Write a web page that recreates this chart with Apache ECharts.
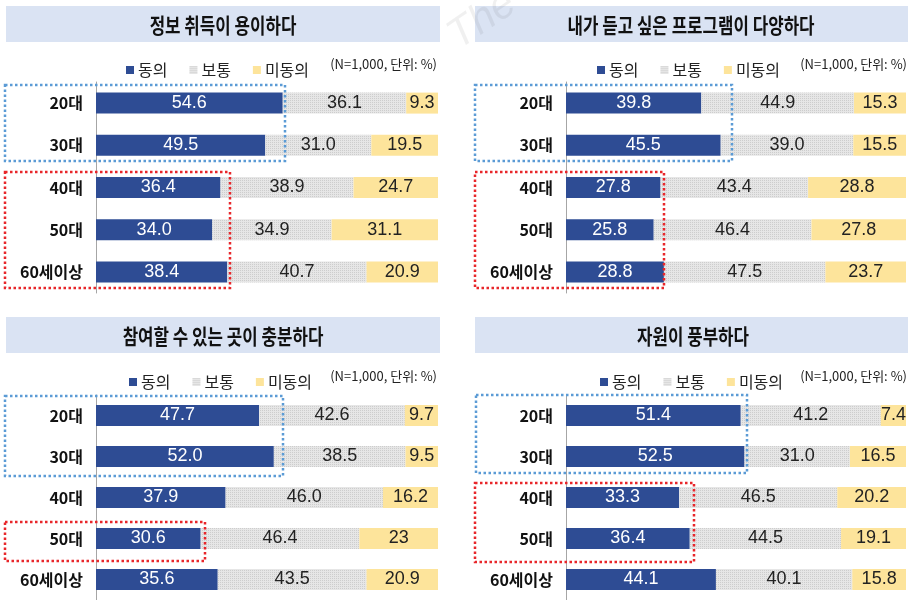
<!DOCTYPE html>
<html><head><meta charset="utf-8">
<script src="https://cdn.jsdelivr.net/npm/echarts@6/dist/echarts.min.js"></script>
<style>html,body{margin:0;padding:0;background:#fff}#c{width:908px;height:600px}</style>
</head><body><div id="c"></div>
<script>
var categories = ['20대','30대','40대','50대','60세이상'];
var seriesNames = ['동의','보통','미동의'];
var titles = ['정보 취득이 용이하다','내가 듣고 싶은 프로그램이 다양하다','참여할 수 있는 곳이 충분하다','자원이 풍부하다'];
var note = '(N=1,000, 단위: %)';

var p1Agree = ['54.6','49.5','36.4','34.0','38.4'];
var p1Neutral = ['36.1','31.0','38.9','34.9','40.7'];
var p1Disagree = ['9.3','19.5','24.7','31.1','20.9'];

var p2Agree = ['39.8','45.5','27.8','25.8','28.8'];
var p2Neutral = ['44.9','39.0','43.4','46.4','47.5'];
var p2Disagree = ['15.3','15.5','28.8','27.8','23.7'];

var p3Agree = ['47.7','52.0','37.9','30.6','35.6'];
var p3Neutral = ['42.6','38.5','46.0','46.4','43.5'];
var p3Disagree = ['9.7','9.5','16.2','23','20.9'];

var p4Agree = ['51.4','52.5','33.3','36.4','44.1'];
var p4Neutral = ['41.2','31.0','46.5','44.5','40.1'];
var p4Disagree = ['7.4','16.5','20.2','19.1','15.8'];

var panels = [
  [p1Agree, p1Neutral, p1Disagree],
  [p2Agree, p2Neutral, p2Disagree],
  [p3Agree, p3Neutral, p3Disagree],
  [p4Agree, p4Neutral, p4Disagree]
];

// layout
var grids = [
  {left:96, top:82, width:342, height:211},
  {left:566, top:82, width:340, height:211},
  {left:96, top:395, width:342, height:211},
  {left:566, top:395, width:340, height:211}
];
var bands = [
  {x:6, y:6, w:434, h:36, cx:223},
  {x:475, y:6, w:433, h:36, cx:691},
  {x:6, y:317, w:434, h:36, cx:223},
  {x:475, y:317, w:433, h:36, cx:693}
];
var legendPos = [{left:121, top:57},{left:592, top:57},{left:124, top:369},{left:595, top:369}];
var notePos = [{x:437, y:64},{x:907, y:64},{x:437, y:376},{x:907, y:376}];
var boxes = [
  {x:5, y:85, w:280, h:76, c:'#5B9BD5'},
  {x:5, y:172, w:225, h:116, c:'#E8262A'},
  {x:475, y:85, w:257, h:76, c:'#5B9BD5'},
  {x:475, y:172, w:189, h:116, c:'#E8262A'},
  {x:5, y:396, w:278, h:80, c:'#5B9BD5'},
  {x:5, y:522, w:200, h:39, c:'#E8262A'},
  {x:476, y:395, w:271, h:78, c:'#5B9BD5'},
  {x:475, y:483, w:219, h:79, c:'#E8262A'}
];

// hatched gray pattern
var pc = document.createElement('canvas');
pc.width = 4; pc.height = 4;
var ctx = pc.getContext('2d');
ctx.fillStyle = '#e6e6e6'; ctx.fillRect(0,0,4,4);
ctx.fillStyle = '#cdcdcd';
ctx.fillRect(0,0,1,1); ctx.fillRect(2,2,1,1); ctx.fillRect(2,0,1,1); ctx.fillRect(0,2,1,1);
var grayPattern = {image: pc, repeat: 'repeat'};

var colors = ['#2E4C94', grayPattern, '#FDE49B'];
var labelColors = ['#ffffff', '#222222', '#222222'];

var option = {
  animation: false,
  backgroundColor: '#ffffff',
  grid: grids.map(function(g){ return Object.assign({containLabel:false}, g); }),
  xAxis: grids.map(function(g, i){
    return {type:'value', gridIndex:i, min:0, max:100, show:false, splitLine:{show:false}};
  }),
  yAxis: grids.map(function(g, i){
    return {
      type:'category', gridIndex:i, data:categories, inverse:true,
      axisLine:{show:true, lineStyle:{color:'#a6a6a6', width:1}},
      axisTick:{show:false},
      axisLabel:{color:'#111', fontSize:16, fontWeight:'bold', fontFamily:'"Noto Sans CJK KR", sans-serif', margin:13}
    };
  }),
  legend: legendPos.map(function(lp){
    return {
      data: seriesNames, left: lp.left, top: lp.top, orient:'horizontal',
      icon:'rect', itemWidth:8, itemHeight:8, itemGap:22,
      textStyle:{fontSize:16, color:'#222', fontFamily:'"Noto Sans CJK KR", sans-serif', padding:[0,0,0,-1]},
      selectedMode:false
    };
  }),
  series: []
};

panels.forEach(function(vals, pi){
  vals.forEach(function(arr, si){
    option.series.push({
      type:'bar', name:seriesNames[si], stack:'s'+pi,
      xAxisIndex:pi, yAxisIndex:pi, barWidth:21,
      itemStyle:{color:colors[si]},
      label:{
        show:true, position:'inside', color:labelColors[si],
        fontSize:18, fontFamily:'"Liberation Sans", Arial, sans-serif',
        formatter:(function(a){ return function(p){ return a[p.dataIndex]; }; })(arr)
      },
      data: arr.map(function(v){ return parseFloat(v); })
    });
  });
});

var gfx = [];
// watermark
gfx.push({type:'text', x:482, y:20, rotation:0.6, z:0, silent:true,
  style:{text:'The', font:'italic 42px "Liberation Sans", sans-serif', fill:'rgba(0,0,0,0.06)', align:'center', verticalAlign:'middle'}});
bands.forEach(function(b, i){
  gfx.push({type:'rect', shape:{x:b.x, y:b.y, width:b.w, height:b.h}, style:{fill:'#DAE3F3'}, z:-1, silent:true});
  gfx.push({type:'text', x:b.cx, y:b.y + b.h/2 + 1, scaleX:0.8, originX:0, originY:0, silent:true,
    style:{text:titles[i], font:'bold 21px "Noto Sans CJK KR", sans-serif', fill:'#111', align:'center', verticalAlign:'middle'}});
});
notePos.forEach(function(n){
  gfx.push({type:'text', x:n.x, y:n.y, silent:true,
    style:{text:note, font:'13px "Noto Sans CJK KR", sans-serif', fill:'#222', align:'right', verticalAlign:'middle'}});
});
boxes.forEach(function(b){
  gfx.push({type:'rect', shape:{x:b.x, y:b.y, width:b.w, height:b.h}, silent:true, z:100,
    style:{fill:'none', stroke:b.c, lineWidth:2.5, lineDash:[2.5,2.5]}});
});
option.graphic = {elements: gfx};

var chart = echarts.init(document.getElementById('c'), null, {renderer:'canvas'});
chart.setOption(option);
</script>
</body></html>
